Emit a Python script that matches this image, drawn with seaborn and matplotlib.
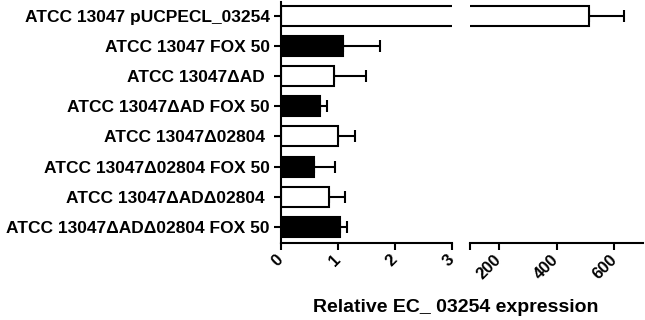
import matplotlib
matplotlib.use("Agg")
import matplotlib.pyplot as plt
import seaborn as sns
import numpy as np
import pandas as pd

sns.set_style("ticks")
plt.rcParams['font.family'] = ['Liberation Sans', 'DejaVu Sans']
plt.rcParams['font.weight'] = 'bold'
plt.rcParams['text.color'] = 'black'
plt.rcParams['xtick.color'] = 'black'
plt.rcParams['ytick.color'] = 'black'
plt.rcParams['axes.edgecolor'] = 'black'

strains = ["ATCC 13047 pUCPECL_03254",
           "ATCC 13047 FOX 50",
           "ATCC 13047\u0394AD ",
           "ATCC 13047\u0394AD FOX 50",
           "ATCC 13047\u039402804 ",
           "ATCC 13047\u039402804 FOX 50",
           "ATCC 13047\u0394AD\u039402804 ",
           "ATCC 13047\u0394AD\u039402804 FOX 50"]
means = [511, 1.08, 0.93, 0.69, 1.00, 0.58, 0.85, 1.04]
errs = [123, 0.66, 0.56, 0.12, 0.29, 0.36, 0.27, 0.11]
fills = ["white", "black", "white", "black", "white", "black", "white", "black"]
left_ticks = [0, 1, 2, 3]
right_ticks = [200, 400, 600]

df = pd.DataFrame({"strain": strains, "value": means})

fig = plt.figure(figsize=(6.45, 3.2), dpi=100)
axL = fig.add_axes([281/645, 1-243/320, (452-281)/645, (243-2)/320])
axR = fig.add_axes([470/645, 1-243/320, (643-470)/645, (243-2)/320])

lw = 1.5
for ax in (axL, axR):
    sns.barplot(data=df, x="value", y="strain", hue="strain", palette=fills,
                edgecolor="black", linewidth=lw, width=0.66, legend=False,
                orient="h", ax=ax, zorder=2)
    ypos = np.arange(len(strains))
    ax.errorbar(means, ypos, xerr=[np.zeros(len(errs)), errs], fmt="none",
                ecolor="black", elinewidth=lw, capsize=4.3, capthick=lw, zorder=1)
    ax.set_ylim(7.53, -0.45)
    ax.set_xlabel("")
    ax.set_ylabel("")
    for s in ("top", "right"):
        ax.spines[s].set_visible(False)
    for s in ("left", "bottom"):
        ax.spines[s].set_linewidth(lw)
    ax.tick_params(axis="both", length=5, width=lw, labelsize=12)

axL.set_xlim(0, 3)
axL.set_xticks(left_ticks)
axL.set_xticklabels([str(t) for t in left_ticks], rotation=45, ha="right",
                    va="center", rotation_mode="anchor", fontweight="bold")
axL.tick_params(axis="x", pad=5)
axL.set_yticks(range(len(strains)))
axL.set_yticklabels(strains, fontweight="bold", fontsize=12.5)
axL.tick_params(axis="y", pad=3)

axR.set_xlim(100, 700)
axR.set_xticks([100] + right_ticks)
axR.set_xticklabels([""] + [str(t) for t in right_ticks], rotation=45, ha="right",
                    va="center", rotation_mode="anchor", fontweight="bold")
axR.tick_params(axis="x", pad=5)
axR.spines["left"].set_visible(False)
axR.set_yticks([])

fig.text(0.707, 0.04, "Relative EC_ 03254 expression", ha="center", va="center",
         fontsize=14, fontweight="bold")

fig.savefig("out.png", dpi=100, facecolor="white")
